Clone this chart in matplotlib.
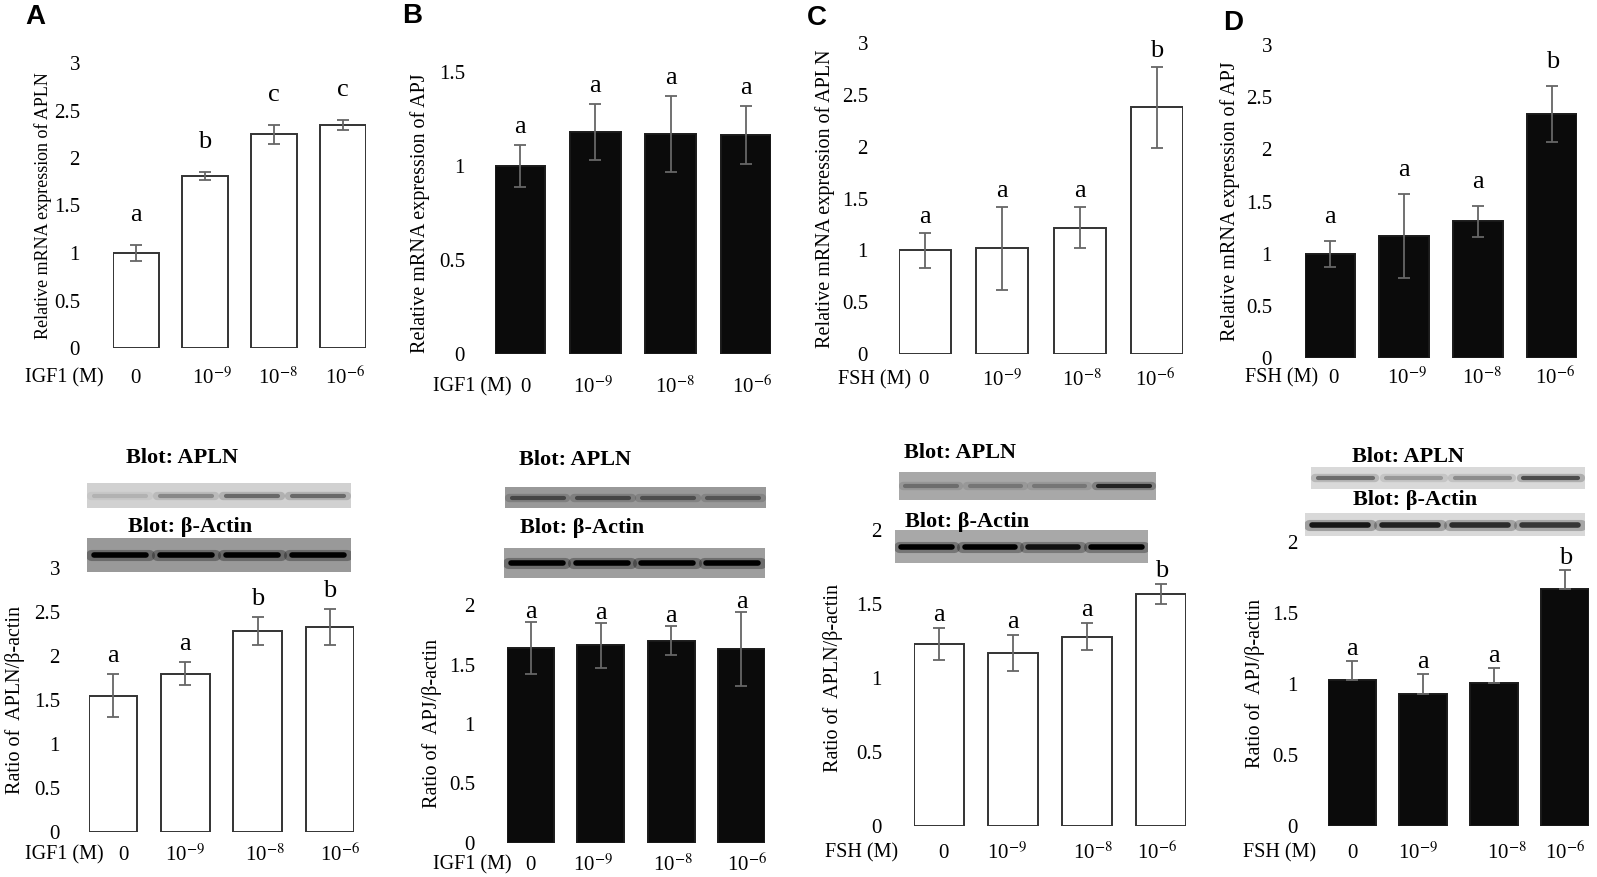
import matplotlib.pyplot as plt
import numpy as np

plt.rcParams['font.family'] = ['Liberation Serif', 'DejaVu Serif']
plt.rcParams['mathtext.fontset'] = 'stix'

W, H = 1597, 877

# x categories (concentration, M)
doses = ['0', '10$^{-9}$', '10$^{-8}$', '10$^{-6}$']

# A: IGF1 -> APLN
a_mrna = [1.00, 1.81, 2.25, 2.35]
a_mrna_err = [0.08, 0.04, 0.10, 0.05]
a_mrna_sig = ['a', 'b', 'c', 'c']
a_prot = [1.55, 1.80, 2.28, 2.33]
a_prot_err = [0.24, 0.13, 0.16, 0.20]
a_prot_sig = ['a', 'a', 'b', 'b']

# B: IGF1 -> APJ
b_mrna = [1.00, 1.18, 1.17, 1.165]
b_mrna_err = [0.11, 0.15, 0.20, 0.155]
b_mrna_sig = ['a', 'a', 'a', 'a']
b_prot = [1.64, 1.66, 1.70, 1.63]
b_prot_err = [0.22, 0.19, 0.12, 0.31]
b_prot_sig = ['a', 'a', 'a', 'a']

# C: FSH -> APLN
c_mrna = [1.00, 1.02, 1.22, 2.38]
c_mrna_err = [0.17, 0.40, 0.20, 0.39]
c_mrna_sig = ['a', 'a', 'a', 'b']
c_prot = [1.23, 1.17, 1.28, 1.57]
c_prot_err = [0.11, 0.12, 0.09, 0.067]
c_prot_sig = ['a', 'a', 'a', 'b']

# D: FSH -> APJ
d_mrna = [1.00, 1.17, 1.31, 2.34]
d_mrna_err = [0.125, 0.40, 0.15, 0.27]
d_mrna_sig = ['a', 'a', 'a', 'b']
d_prot = [1.03, 0.93, 1.01, 1.67]
d_prot_err = [0.13, 0.14, 0.10, 0.13]
d_prot_sig = ['a', 'a', 'a', 'b']

# western blot band strength per lane (0 = none, 1 = black)
a_apln_bands = [0.15, 0.35, 0.5, 0.5]
a_actin_bands = [1.0, 1.0, 1.0, 1.0]
b_apln_bands = [0.55, 0.55, 0.5, 0.45]
b_actin_bands = [1.0, 1.0, 1.0, 1.0]
c_apln_bands = [0.35, 0.3, 0.3, 0.8]
c_actin_bands = [1.0, 1.0, 0.9, 1.0]
d_apln_bands = [0.5, 0.3, 0.35, 0.65]
d_actin_bands = [0.9, 0.85, 0.8, 0.75]

fig = plt.figure(figsize=(W / 100, H / 100), dpi=100)


def px_axes(x0, y0, x1, y1):
    return fig.add_axes([x0 / W, 1 - y1 / H, (x1 - x0) / W, (y1 - y0) / H])


def bar_panel(box, vals, errs, sigs, ymax, dark, ylabel, lab_x, lab_size,
              gap, pad, agent, agent_x, xlab_y, xlab_px, upper_only=False):
    x0, y0, x1, y1 = box
    ax = px_axes(*box)
    ax.set_facecolor('none')
    pos = np.arange(len(vals))
    if dark:
        face, edge = '#0b0b0b', '#1a1a1a'
    else:
        face, edge = 'white', '#333333'
    ax.bar(pos, vals, width=0.67, color=face, edgecolor=edge, lw=1.4, zorder=2)
    yerr = [np.zeros(len(errs)), errs] if upper_only else errs
    ax.errorbar(pos, vals, yerr=yerr, fmt='none', ecolor='#666666',
                elinewidth=1.3, capsize=4.5, capthick=1.3, zorder=3)
    for p, v, e, s in zip(pos, vals, errs, sigs):
        ax.annotate(s, (p, v + e), xytext=(0, gap * 0.72), textcoords='offset points',
                    ha='center', va='baseline', fontsize=19, annotation_clip=False)
    ax.set_xlim(-0.335, len(vals) - 1 + 0.335)
    ax.set_ylim(0, ymax)
    ticks = np.arange(0, ymax + 0.25, 0.5)
    ax.set_yticks(ticks)
    ax.set_yticklabels([f'{t:g}' for t in ticks])
    ax.tick_params(axis='y', length=0, pad=pad * 0.72, labelsize=15)
    ax.set_xticks([])
    for sp in ax.spines.values():
        sp.set_visible(False)
    fig.text(lab_x / W, 1 - (y0 + y1) / 2 / H, ylabel, rotation=90,
             ha='center', va='center', fontsize=lab_size)
    for xp, d in zip(xlab_px, doses):
        fig.text(xp / W, 1 - xlab_y / H, d, ha='center', va='center', fontsize=15)
    fig.text(agent_x / W, 1 - xlab_y / H, agent, ha='left', va='center', fontsize=14.5)
    return ax


def blot(box, bg, bands, thick, title, title_x, title_y):
    ax = px_axes(*box)
    ax.set_facecolor(str(bg))
    ax.set_xlim(0, 4)
    ax.set_ylim(0, 1)
    ax.set_xticks([])
    ax.set_yticks([])
    for sp in ax.spines.values():
        sp.set_visible(False)
    for i, k in enumerate(bands):
        c = str(round(bg * (1 - k), 3))
        ax.plot([i + 0.06, i + 0.94], [0.5, 0.5], color=c, lw=thick * 2, alpha=0.3,
                solid_capstyle='round')
        ax.plot([i + 0.1, i + 0.9], [0.5, 0.5], color=c, lw=thick, solid_capstyle='round')
    fig.text(title_x / W, 1 - title_y / H, title, ha='center', va='center',
             fontsize=16, fontweight='bold')


# top row: mRNA
bar_panel((113, 63, 366, 348), a_mrna, a_mrna_err, a_mrna_sig, 3, False,
          'Relative mRNA expression of APLN', 43, 13, 24, 33, 'IGF1 (M)', 25, 378,
          [135, 212, 278, 345])
bar_panel((495, 72, 771, 354), b_mrna, b_mrna_err, b_mrna_sig, 1.5, True,
          'Relative mRNA expression of APJ', 420, 14.5, 12, 30, 'IGF1 (M)', 433, 387,
          [525, 593, 675, 752])
bar_panel((899, 43, 1183, 354), c_mrna, c_mrna_err, c_mrna_sig, 3, False,
          'Relative mRNA expression of APLN', 825, 14.5, 10, 31, 'FSH (M)', 838, 380,
          [923, 1002, 1082, 1155])
bar_panel((1305, 45, 1577, 358), d_mrna, d_mrna_err, d_mrna_sig, 3, True,
          'Relative mRNA expression of APJ', 1230, 14.5, 18, 33, 'FSH (M)', 1245, 378,
          [1333, 1407, 1482, 1555])

# bottom row: protein
bar_panel((89, 568, 354, 832), a_prot, a_prot_err, a_prot_sig, 3, False,
          'Ratio of  APLN/β-actin', 15, 14.5, 12, 29, 'IGF1 (M)', 25, 855,
          [123, 185, 265, 340])
bar_panel((507, 605, 765, 843), b_prot, b_prot_err, b_prot_sig, 2, True,
          'Ratio of  APJ/β-actin', 432, 14.5, 4, 32, 'IGF1 (M)', 433, 865,
          [530, 593, 673, 747])
bar_panel((914, 530, 1186, 826), c_prot, c_prot_err, c_prot_sig, 2, False,
          'Ratio of  APLN/β-actin', 833, 14.5, 7, 32, 'FSH (M)', 825, 853,
          [943, 1007, 1093, 1157])
bar_panel((1328, 542, 1589, 826), d_prot, d_prot_err, d_prot_sig, 2, True,
          'Ratio of  APJ/β-actin', 1255, 14.5, 6, 30, 'FSH (M)', 1243, 853,
          [1352, 1418, 1507, 1565], upper_only=True)

# blots
blot((87, 483, 351, 508), 0.82, a_apln_bands, 3, 'Blot: APLN', 182, 458)
blot((87, 538, 351, 572), 0.6, a_actin_bands, 4, 'Blot: β-Actin', 190, 527)
blot((505, 487, 766, 508), 0.6, b_apln_bands, 3, 'Blot: APLN', 575, 460)
blot((504, 548, 765, 578), 0.62, b_actin_bands, 4, 'Blot: β-Actin', 582, 528)
blot((899, 472, 1156, 500), 0.66, c_apln_bands, 3, 'Blot: APLN', 960, 453)
blot((895, 530, 1148, 563), 0.66, c_actin_bands, 4, 'Blot: β-Actin', 967, 522)
blot((1311, 467, 1585, 489), 0.85, d_apln_bands, 3, 'Blot: APLN', 1408, 457)
blot((1305, 513, 1585, 536), 0.85, d_actin_bands, 4, 'Blot: β-Actin', 1415, 500)

# panel letters
for letter, x, y in [('A', 25, 4), ('B', 402, 3), ('C', 807, 5), ('D', 1223, 10)]:
    fig.text(x / W, 1 - y / H, letter, ha='left', va='top', fontsize=20,
             fontweight='bold', family='Liberation Sans')

fig.savefig('out.png', dpi=100)
